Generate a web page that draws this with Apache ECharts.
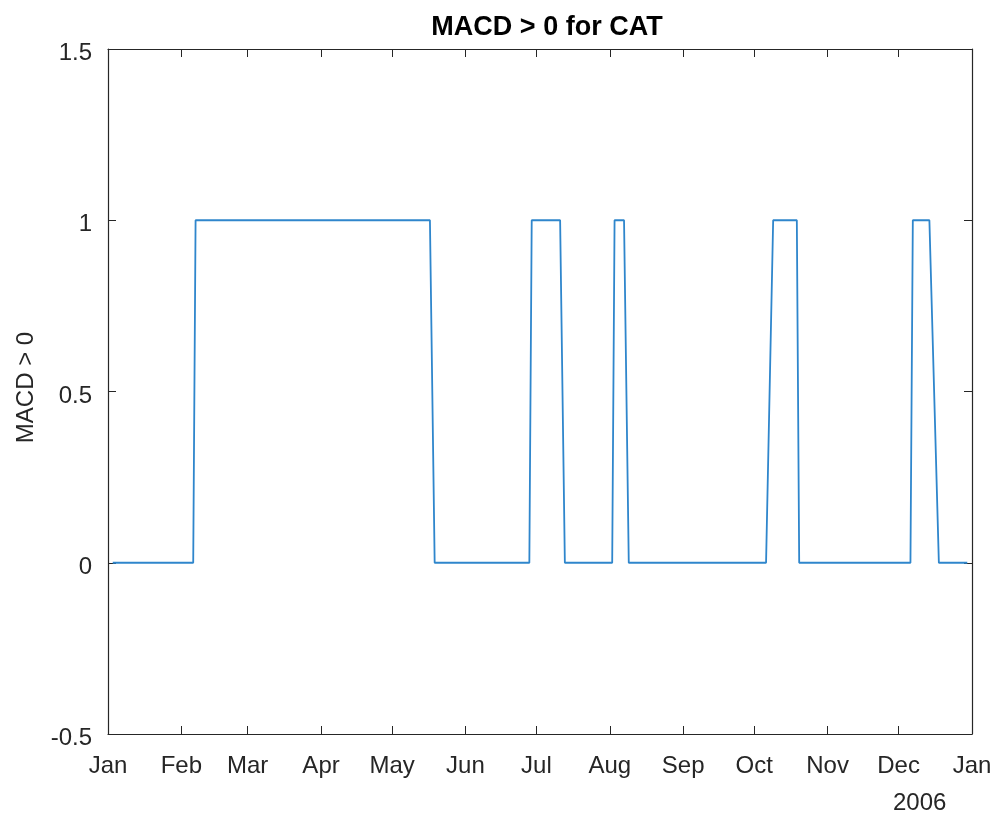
<!DOCTYPE html>
<html>
<head>
<meta charset="utf-8">
<script src="https://cdn.jsdelivr.net/npm/echarts@6/dist/echarts.min.js"></script>
<style>
html,body{margin:0;padding:0;background:#fff;}
#chart{width:998px;height:817px;}
</style>
</head>
<body>
<div id="chart"></div>
<script>
// Vertices of the MACD > 0 indicator (trading dates where the value changes)
const dates = ['2006-01-03','2006-02-06','2006-02-07','2006-05-17','2006-05-19','2006-06-28','2006-06-29','2006-07-11','2006-07-13','2006-08-02','2006-08-03','2006-08-07','2006-08-09','2006-10-06','2006-10-09','2006-10-19','2006-10-20','2006-12-06','2006-12-07','2006-12-14','2006-12-18','2006-12-30'];
const values = [0,0,1,1,0,0,1,1,0,0,1,1,0,0,1,1,0,0,1,1,0,0];
const yTicks = [-0.5, 0, 0.5, 1, 1.5];
const xMin = '2006-01-01';
const xMax = '2007-01-01';
const titleText = 'MACD > 0 for CAT';
const yName = 'MACD > 0';
const yearLabel = '2006';

const months = ['Jan','Feb','Mar','Apr','May','Jun','Jul','Aug','Sep','Oct','Nov','Dec'];
const axisColor = '#262626';
const font = 'Liberation Sans, Arial, Helvetica, sans-serif';
const fs = 24;
const DAY = 86400000;

const chart = echarts.init(document.getElementById('chart'), null, {renderer:'canvas'});
const xCommon = {
  type: 'time',
  min: xMin, max: xMax,
  minInterval: 28 * DAY, maxInterval: 31 * DAY,
  axisLine: {show: true, onZero: false, lineStyle: {color: axisColor, width: 1.2}},
  axisTick: {show: true, inside: true, length: 8, lineStyle: {color: axisColor}},
  splitLine: {show: false},
  minorTick: {show: false}
};
const yCommon = {
  type: 'value',
  min: yTicks[0], max: yTicks[yTicks.length - 1], interval: 0.5,
  axisLine: {show: true, onZero: false, lineStyle: {color: axisColor, width: 1.2}},
  axisTick: {show: true, inside: true, length: 8, lineStyle: {color: axisColor}},
  splitLine: {show: false}
};
chart.setOption({
  animation: false,
  backgroundColor: '#ffffff',
  title: {
    text: titleText, left: 542, top: 9, textAlign: 'center',
    textStyle: {fontFamily: font, fontSize: 27, fontWeight: 'bold', color: '#000'}
  },
  grid: {left: 108, right: 26, top: 49, bottom: 83, containLabel: false},
  xAxis: [
    Object.assign({}, xCommon, {
      position: 'bottom',
      axisLabel: {
        show: true, margin: 20, color: axisColor, fontFamily: font, fontSize: fs,
        formatter: function (v) { return months[new Date(v).getMonth()]; },
        showMinLabel: true, showMaxLabel: true
      }
    }),
    Object.assign({}, xCommon, {position: 'top', axisLabel: {show: false}})
  ],
  yAxis: [
    Object.assign({}, yCommon, {
      position: 'left',
      name: yName, nameLocation: 'middle', nameGap: 70, nameRotate: 90,
      nameTextStyle: {fontFamily: font, fontSize: fs, color: axisColor, padding: [0, 0, 0, 8]},
      axisLabel: {show: true, margin: 16, color: axisColor, fontFamily: font, fontSize: fs,
        formatter: function (v) { return '{a|' + String(v) + '}'; },
        rich: {a: {fontFamily: font, fontSize: fs, color: axisColor, padding: [9, 0, 0, 0]}}}
    }),
    Object.assign({}, yCommon, {position: 'right', axisLabel: {show: false}})
  ],
  graphic: [{
    type: 'text', left: 893, top: 791,
    style: {text: yearLabel, fontFamily: font, fontSize: fs, fill: axisColor}
  }],
  series: [{
    type: 'line',
    xAxisIndex: 0, yAxisIndex: 0,
    data: dates.map((d, i) => [d, values[i]]),
    showSymbol: false,
    lineStyle: {color: '#2f86cc', width: 1.8},
    itemStyle: {color: '#2f86cc'}
  }]
});
</script>
</body>
</html>
